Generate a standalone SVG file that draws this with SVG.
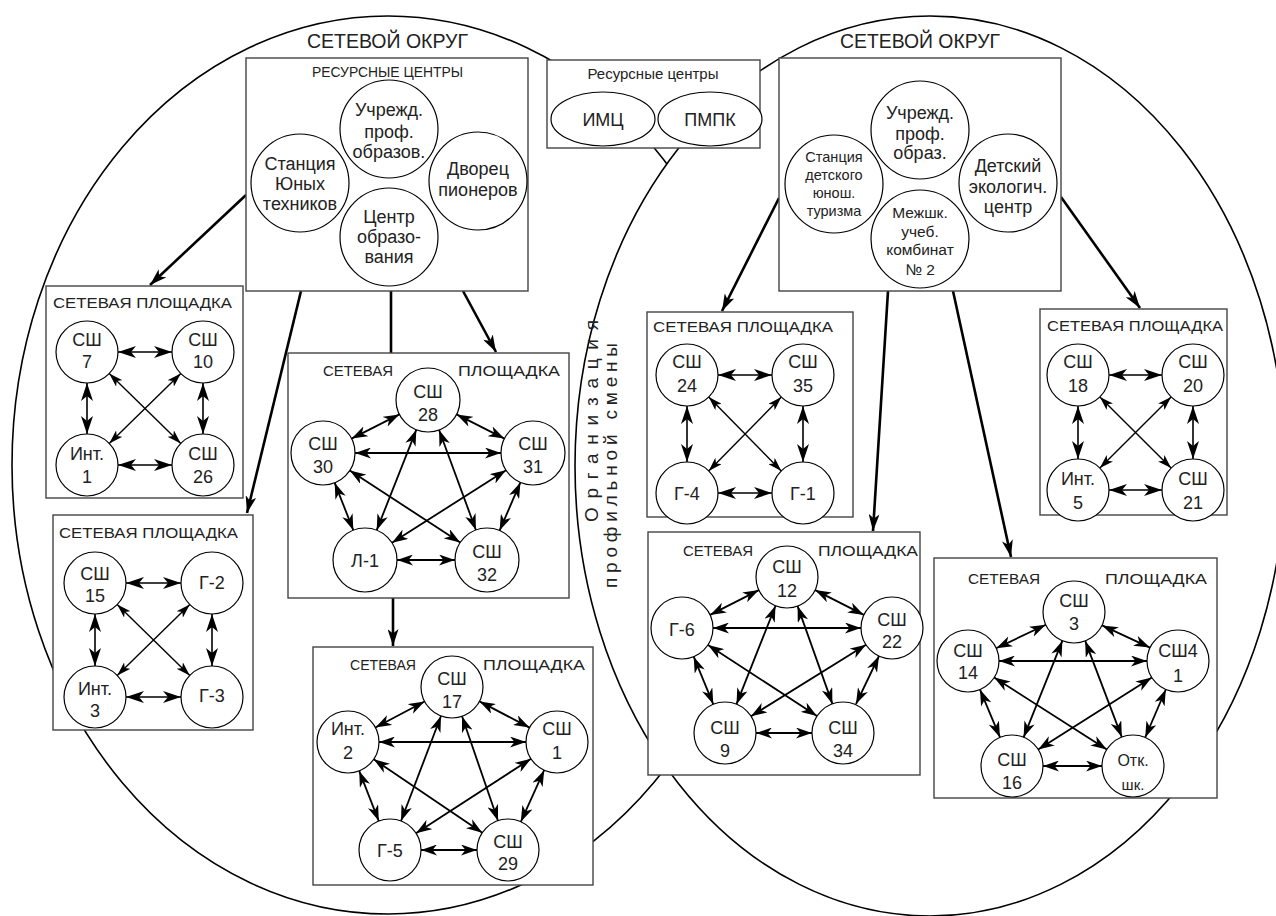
<svg xmlns="http://www.w3.org/2000/svg" width="1276" height="916" viewBox="0 0 1276 916">
<defs>
<style>
.el{fill:none;stroke:#000;stroke-width:1.6}
.elw{fill:#fff;stroke:#000;stroke-width:1.6}
.box{fill:#fff;stroke:#444;stroke-width:1.4}
.c{fill:#fff;stroke:#000;stroke-width:1.2}
text{font-family:"Liberation Sans",Arial,sans-serif;fill:#222}
.cl{font-size:18px;text-anchor:middle}
.rc{font-size:18px;text-anchor:middle}
.sm{font-size:14.5px;text-anchor:middle}
.md{font-size:15.5px;text-anchor:middle}
.tt{font-size:15px}
.big{font-size:21px}
.vt{font-size:19px}
.a1{stroke:#000;stroke-width:1.6;fill:none;marker-start:url(#ah);marker-end:url(#ah)}
.ap{stroke:#000;stroke-width:1.8;fill:none;marker-start:url(#ap);marker-end:url(#ap)}
.a2{stroke:#000;stroke-width:1.4;fill:none;marker-start:url(#as);marker-end:url(#as)}
.ac{stroke:#000;stroke-width:2.6;fill:none;marker-end:url(#at)}
.ln{stroke:#000;stroke-width:2.6;fill:none}
</style>
<marker id="ah" viewBox="0 0 18 12" refX="18" refY="6" markerWidth="18" markerHeight="12" markerUnits="userSpaceOnUse" orient="auto-start-reverse"><path d="M0,0 L18,6 L0,12 L5,6 Z" fill="#000"/></marker>
<marker id="ap" viewBox="0 0 16 11" refX="16" refY="5.5" markerWidth="16" markerHeight="11" markerUnits="userSpaceOnUse" orient="auto-start-reverse"><path d="M0,0 L16,5.5 L0,11 L4.5,5.5 Z" fill="#000"/></marker>
<marker id="as" viewBox="0 0 14 9" refX="14" refY="4.5" markerWidth="14" markerHeight="9" markerUnits="userSpaceOnUse" orient="auto-start-reverse"><path d="M0,0 L14,4.5 L0,9 L3.5,4.5 Z" fill="#000"/></marker>
<marker id="at" viewBox="0 0 17 11" refX="17" refY="5.5" markerWidth="17" markerHeight="11" markerUnits="userSpaceOnUse" orient="auto"><path d="M0,0 L17,5.5 L0,11 L4.5,5.5 Z" fill="#000"/></marker>
</defs>
<rect width="1276" height="916" fill="#fff"/>

<g id="districts">
<ellipse class="el" cx="388" cy="465" rx="376" ry="449"/>
<ellipse class="elw" cx="930" cy="466" rx="355" ry="450"/>
<text class="big" x="307" y="48" textLength="161" lengthAdjust="spacingAndGlyphs">СЕТЕВОЙ ОКРУГ</text>
<text class="big" x="840" y="48" textLength="160" lengthAdjust="spacingAndGlyphs">СЕТЕВОЙ ОКРУГ</text>
<text class="vt" transform="translate(598,522) rotate(-90)" textLength="202" lengthAdjust="spacing">Организация</text>
<text class="vt" transform="translate(617,588) rotate(-90)" textLength="245" lengthAdjust="spacing">профильной смены</text>
</g>

<g id="connectors-main">
<line class="ac" x1="246" y1="195" x2="150" y2="285"/>
<line class="ac" x1="301" y1="291" x2="247" y2="513"/>
<line class="ln" x1="391" y1="291" x2="391" y2="353"/>
<line class="ac" x1="463" y1="291" x2="496" y2="352"/>
<line class="ac" x1="393" y1="598" x2="393" y2="646"/>
<line class="ac" x1="779" y1="198" x2="722" y2="311"/>
<line class="ac" x1="888" y1="291" x2="873" y2="531"/>
<line class="ac" x1="953" y1="291" x2="1011" y2="557"/>
<line class="ac" x1="1061" y1="197" x2="1140" y2="308"/>
</g>

<g id="rc-left">
<rect class="box" x="246" y="58" width="282" height="233"/>
<text class="tt" x="312" y="77" textLength="151" lengthAdjust="spacingAndGlyphs">РЕСУРСНЫЕ ЦЕНТРЫ</text>
<circle class="c" cx="389" cy="129" r="49"/>
<text class="rc" x="389" y="116">Учрежд.</text><text class="rc" x="389" y="138">проф.</text><text class="rc" x="389" y="158">образов.</text>
<circle class="c" cx="300" cy="183" r="49"/>
<text class="rc" x="300" y="170">Станция</text><text class="rc" x="300" y="190">Юных</text><text class="rc" x="300" y="210">техников</text>
<circle class="c" cx="478" cy="181" r="49"/>
<text class="rc" x="478" y="175">Дворец</text><text class="rc" x="478" y="196">пионеров</text>
<circle class="c" cx="389" cy="237" r="49"/>
<text class="rc" x="389" y="223">Центр</text><text class="rc" x="389" y="243">образо-</text><text class="rc" x="389" y="263">вания</text>
</g>

<g id="rc-center">
<rect class="box" x="547" y="60" width="213" height="88"/>
<text class="tt" x="653" y="79" text-anchor="middle">Ресурсные центры</text>
<ellipse class="c" cx="603" cy="119" rx="52" ry="27"/>
<text class="rc" x="603" y="126">ИМЦ</text>
<ellipse class="c" cx="710" cy="119" rx="52" ry="27"/>
<text class="rc" x="710" y="126">ПМПК</text>
</g>

<g id="rc-right">
<rect class="box" x="779" y="58" width="282" height="233"/>
<circle class="c" cx="920" cy="130" r="49"/>
<text class="rc" x="920" y="119">Учрежд.</text><text class="rc" x="920" y="140">проф.</text><text class="rc" x="920" y="159">образ.</text>
<circle class="c" cx="834" cy="184" r="49"/>
<text class="sm" x="834" y="162">Станция</text><text class="sm" x="834" y="180">детского</text><text class="sm" x="834" y="198">юнош.</text><text class="sm" x="834" y="216">туризма</text>
<circle class="c" cx="1008" cy="183" r="49"/>
<text class="rc" x="1008" y="172">Детский</text><text class="rc" x="1008" y="193">экологич.</text><text class="rc" x="1008" y="213">центр</text>
<circle class="c" cx="920" cy="239" r="49"/>
<text class="md" x="920" y="218">Межшк.</text><text class="md" x="920" y="237">учеб.</text><text class="md" x="920" y="255">комбинат</text><text class="md" x="920" y="275">№ 2</text>
</g>

<g id="site-l1">
<rect class="box" x="46" y="286" width="197" height="212"/>
<text class="tt" x="53" y="308" textLength="179" lengthAdjust="spacingAndGlyphs">СЕТЕВАЯ ПЛОЩАДКА</text>
<circle class="c" cx="87" cy="352" r="31"/><text class="cl" x="87" y="346">СШ</text><text class="cl" x="87" y="368">7</text>
<circle class="c" cx="203" cy="352" r="31"/><text class="cl" x="203" y="346">СШ</text><text class="cl" x="203" y="368">10</text>
<circle class="c" cx="87" cy="465" r="31"/><text class="cl" x="87" y="460">Инт.</text><text class="cl" x="87" y="483">1</text>
<circle class="c" cx="203" cy="465" r="31"/><text class="cl" x="203" y="460">СШ</text><text class="cl" x="203" y="483">26</text>
</g>

<g id="site-l2">
<rect class="box" x="53" y="515" width="200" height="215"/>
<text class="tt" x="59" y="538" textLength="179" lengthAdjust="spacingAndGlyphs">СЕТЕВАЯ ПЛОЩАДКА</text>
<circle class="c" cx="95" cy="583" r="31"/><text class="cl" x="95" y="580">СШ</text><text class="cl" x="95" y="602">15</text>
<circle class="c" cx="212" cy="583" r="31"/><text class="cl" x="212" y="589">Г-2</text>
<circle class="c" cx="95" cy="697" r="31"/><text class="cl" x="95" y="695">Инт.</text><text class="cl" x="95" y="717">3</text>
<circle class="c" cx="212" cy="697" r="31"/><text class="cl" x="212" y="702">Г-3</text>
</g>

<g id="site-l3">
<rect class="box" x="288" y="353" width="281" height="245"/>
<text class="tt" x="323" y="376" textLength="70" lengthAdjust="spacingAndGlyphs">СЕТЕВАЯ</text>
<text class="tt" x="458" y="376" textLength="102" lengthAdjust="spacingAndGlyphs">ПЛОЩАДКА</text>
<circle class="c" cx="428" cy="400" r="32"/><text class="cl" x="428" y="398">СШ</text><text class="cl" x="428" y="421">28</text>
<circle class="c" cx="323" cy="453" r="32"/><text class="cl" x="323" y="450">СШ</text><text class="cl" x="323" y="473">30</text>
<circle class="c" cx="533" cy="453" r="32"/><text class="cl" x="533" y="450">СШ</text><text class="cl" x="533" y="473">31</text>
<circle class="c" cx="365" cy="560" r="32"/><text class="cl" x="365" y="567">Л-1</text>
<circle class="c" cx="487" cy="560" r="32"/><text class="cl" x="487" y="558">СШ</text><text class="cl" x="487" y="581">32</text>
</g>

<g id="site-l4">
<rect class="box" x="313" y="647" width="280" height="238"/>
<text class="tt" x="350" y="670" textLength="66" lengthAdjust="spacingAndGlyphs">СЕТЕВАЯ</text>
<text class="tt" x="483" y="670" textLength="102" lengthAdjust="spacingAndGlyphs">ПЛОЩАДКА</text>
<circle class="c" cx="452" cy="687" r="31"/><text class="cl" x="452" y="685">СШ</text><text class="cl" x="452" y="708">17</text>
<circle class="c" cx="348" cy="742" r="31"/><text class="cl" x="348" y="735">Инт.</text><text class="cl" x="348" y="759">2</text>
<circle class="c" cx="557" cy="742" r="31"/><text class="cl" x="557" y="735">СШ</text><text class="cl" x="557" y="759">1</text>
<circle class="c" cx="390" cy="850" r="31"/><text class="cl" x="390" y="857">Г-5</text>
<circle class="c" cx="508" cy="850" r="31"/><text class="cl" x="508" y="848">СШ</text><text class="cl" x="508" y="870">29</text>
</g>

<g id="site-r1">
<rect class="box" x="647" y="312" width="206" height="205"/>
<text class="tt" x="653" y="332" textLength="180" lengthAdjust="spacingAndGlyphs">СЕТЕВАЯ ПЛОЩАДКА</text>
<circle class="c" cx="687" cy="375" r="31"/><text class="cl" x="687" y="368">СШ</text><text class="cl" x="687" y="392">24</text>
<circle class="c" cx="803" cy="375" r="31"/><text class="cl" x="803" y="368">СШ</text><text class="cl" x="803" y="392">35</text>
<circle class="c" cx="687" cy="493" r="31"/><text class="cl" x="687" y="500">Г-4</text>
<circle class="c" cx="803" cy="493" r="31"/><text class="cl" x="803" y="500">Г-1</text>
</g>

<g id="site-r2">
<rect class="box" x="1040" y="309" width="187" height="206"/>
<text class="tt" x="1047" y="331" textLength="176" lengthAdjust="spacingAndGlyphs">СЕТЕВАЯ ПЛОЩАДКА</text>
<circle class="c" cx="1078" cy="375" r="31"/><text class="cl" x="1078" y="368">СШ</text><text class="cl" x="1078" y="392">18</text>
<circle class="c" cx="1193" cy="375" r="31"/><text class="cl" x="1193" y="368">СШ</text><text class="cl" x="1193" y="392">20</text>
<circle class="c" cx="1078" cy="490" r="31"/><text class="cl" x="1078" y="485">Инт.</text><text class="cl" x="1078" y="509">5</text>
<circle class="c" cx="1193" cy="490" r="31"/><text class="cl" x="1193" y="485">СШ</text><text class="cl" x="1193" y="509">21</text>
</g>

<g id="site-r3">
<rect class="box" x="648" y="532" width="272" height="243"/>
<text class="tt" x="683" y="556" textLength="70" lengthAdjust="spacingAndGlyphs">СЕТЕВАЯ</text>
<text class="tt" x="818" y="556" textLength="100" lengthAdjust="spacingAndGlyphs">ПЛОЩАДКА</text>
<circle class="c" cx="787" cy="577" r="31"/><text class="cl" x="787" y="573">СШ</text><text class="cl" x="787" y="597">12</text>
<circle class="c" cx="682" cy="628" r="31"/><text class="cl" x="682" y="636">Г-6</text>
<circle class="c" cx="892" cy="628" r="31"/><text class="cl" x="892" y="626">СШ</text><text class="cl" x="892" y="648">22</text>
<circle class="c" cx="725" cy="733" r="31"/><text class="cl" x="725" y="734">СШ</text><text class="cl" x="725" y="757">9</text>
<circle class="c" cx="843" cy="733" r="31"/><text class="cl" x="843" y="734">СШ</text><text class="cl" x="843" y="757">34</text>
</g>

<g id="site-r4">
<rect class="box" x="934" y="558" width="283" height="240"/>
<text class="tt" x="968" y="584" textLength="72" lengthAdjust="spacingAndGlyphs">СЕТЕВАЯ</text>
<text class="tt" x="1105" y="584" textLength="102" lengthAdjust="spacingAndGlyphs">ПЛОЩАДКА</text>
<circle class="c" cx="1074" cy="612" r="31"/><text class="cl" x="1074" y="607">СШ</text><text class="cl" x="1074" y="630">3</text>
<circle class="c" cx="968" cy="661" r="31"/><text class="cl" x="968" y="657">СШ</text><text class="cl" x="968" y="679">14</text>
<circle class="c" cx="1178" cy="661" r="31"/><text class="cl" x="1178" y="657">СШ4</text><text class="cl" x="1178" y="682">1</text>
<circle class="c" cx="1012" cy="766" r="31"/><text class="cl" x="1012" y="766">СШ</text><text class="cl" x="1012" y="789">16</text>
<circle class="c" cx="1133" cy="766" r="31"/><text class="cl" x="1133" y="766" style="font-size:16px">Отк.</text><text class="cl" x="1133" y="790" style="font-size:15px">шк.</text>
</g>

<g id="connectors">
<line class="a1" x1="118" y1="352" x2="172" y2="352"/>
<line class="a1" x1="118" y1="465" x2="172" y2="465"/>
<line class="a1" x1="87" y1="383" x2="87" y2="434"/>
<line class="a1" x1="203" y1="383" x2="203" y2="434"/>
<line class="a2" x1="109.2" y1="373.6" x2="180.8" y2="443.4"/>
<line class="a2" x1="180.8" y1="373.6" x2="109.2" y2="443.4"/>
<line class="a1" x1="126" y1="583" x2="181" y2="583"/>
<line class="a1" x1="126" y1="697" x2="181" y2="697"/>
<line class="a1" x1="95" y1="614" x2="95" y2="666"/>
<line class="a1" x1="212" y1="614" x2="212" y2="666"/>
<line class="a2" x1="117.2" y1="604.6" x2="189.8" y2="675.4"/>
<line class="a2" x1="189.8" y1="604.6" x2="117.2" y2="675.4"/>
<line class="a1" x1="718" y1="375" x2="772" y2="375"/>
<line class="a1" x1="718" y1="493" x2="772" y2="493"/>
<line class="a1" x1="687" y1="406" x2="687" y2="462"/>
<line class="a1" x1="803" y1="406" x2="803" y2="462"/>
<line class="a2" x1="708.7" y1="397.1" x2="781.3" y2="470.9"/>
<line class="a2" x1="781.3" y1="397.1" x2="708.7" y2="470.9"/>
<line class="a1" x1="1109" y1="375" x2="1162" y2="375"/>
<line class="a1" x1="1109" y1="490" x2="1162" y2="490"/>
<line class="a1" x1="1078" y1="406" x2="1078" y2="459"/>
<line class="a1" x1="1193" y1="406" x2="1193" y2="459"/>
<line class="a2" x1="1099.9" y1="396.9" x2="1171.1" y2="468.1"/>
<line class="a2" x1="1171.1" y1="396.9" x2="1099.9" y2="468.1"/>
<line class="ap" x1="399.4" y1="414.4" x2="351.6" y2="438.6"/>
<line class="ap" x1="456.6" y1="414.4" x2="504.4" y2="438.6"/>
<line class="ap" x1="334.7" y1="482.8" x2="353.3" y2="530.2"/>
<line class="ap" x1="520.4" y1="482.4" x2="499.6" y2="530.6"/>
<line class="ap" x1="397" y1="560" x2="455" y2="560"/>
<line class="ap" x1="416.3" y1="429.8" x2="376.7" y2="530.2"/>
<line class="ap" x1="439.1" y1="430" x2="475.9" y2="530"/>
<line class="ap" x1="355" y1="453" x2="501" y2="453"/>
<line class="ap" x1="349.8" y1="470.5" x2="460.2" y2="542.5"/>
<line class="ap" x1="506" y1="470.2" x2="392" y2="542.8"/>
<line class="ap" x1="424.6" y1="701.5" x2="375.4" y2="727.5"/>
<line class="ap" x1="479.5" y1="701.4" x2="529.5" y2="727.6"/>
<line class="ap" x1="359.2" y1="770.9" x2="378.8" y2="821.1"/>
<line class="ap" x1="544.2" y1="770.2" x2="520.8" y2="821.8"/>
<line class="ap" x1="421" y1="850" x2="477" y2="850"/>
<line class="ap" x1="441" y1="716" x2="401" y2="821"/>
<line class="ap" x1="462" y1="716.3" x2="498" y2="820.7"/>
<line class="ap" x1="379" y1="742" x2="526" y2="742"/>
<line class="ap" x1="373.7" y1="759.3" x2="482.3" y2="832.7"/>
<line class="ap" x1="531" y1="758.8" x2="416" y2="833.2"/>
<line class="ap" x1="758.9" y1="590.1" x2="710.1" y2="614.9"/>
<line class="ap" x1="815.1" y1="590.1" x2="863.9" y2="614.9"/>
<line class="ap" x1="693.7" y1="656.7" x2="713.3" y2="704.3"/>
<line class="ap" x1="879" y1="656" x2="856" y2="704"/>
<line class="ap" x1="756" y1="733" x2="812" y2="733"/>
<line class="ap" x1="775.5" y1="605.8" x2="736.5" y2="704.2"/>
<line class="ap" x1="797.6" y1="606.1" x2="832.4" y2="703.9"/>
<line class="ap" x1="713" y1="628" x2="861" y2="628"/>
<line class="ap" x1="708" y1="645" x2="817" y2="716"/>
<line class="ap" x1="866" y1="644.8" x2="751" y2="716.2"/>
<line class="ap" x1="1045.8" y1="624.8" x2="996.2" y2="648.2"/>
<line class="ap" x1="1102.1" y1="625.4" x2="1149.9" y2="647.6"/>
<line class="ap" x1="980" y1="689.6" x2="1000" y2="737.4"/>
<line class="ap" x1="1165.8" y1="689.5" x2="1145.2" y2="737.5"/>
<line class="ap" x1="1043" y1="766" x2="1102" y2="766"/>
<line class="ap" x1="1062.4" y1="640.7" x2="1023.6" y2="737.3"/>
<line class="ap" x1="1085.2" y1="640.9" x2="1121.8" y2="737.1"/>
<line class="ap" x1="999" y1="661" x2="1147" y2="661"/>
<line class="ap" x1="994.2" y1="677.6" x2="1106.8" y2="749.4"/>
<line class="ap" x1="1151.8" y1="677.6" x2="1038.2" y2="749.4"/>
</g>
</svg>
